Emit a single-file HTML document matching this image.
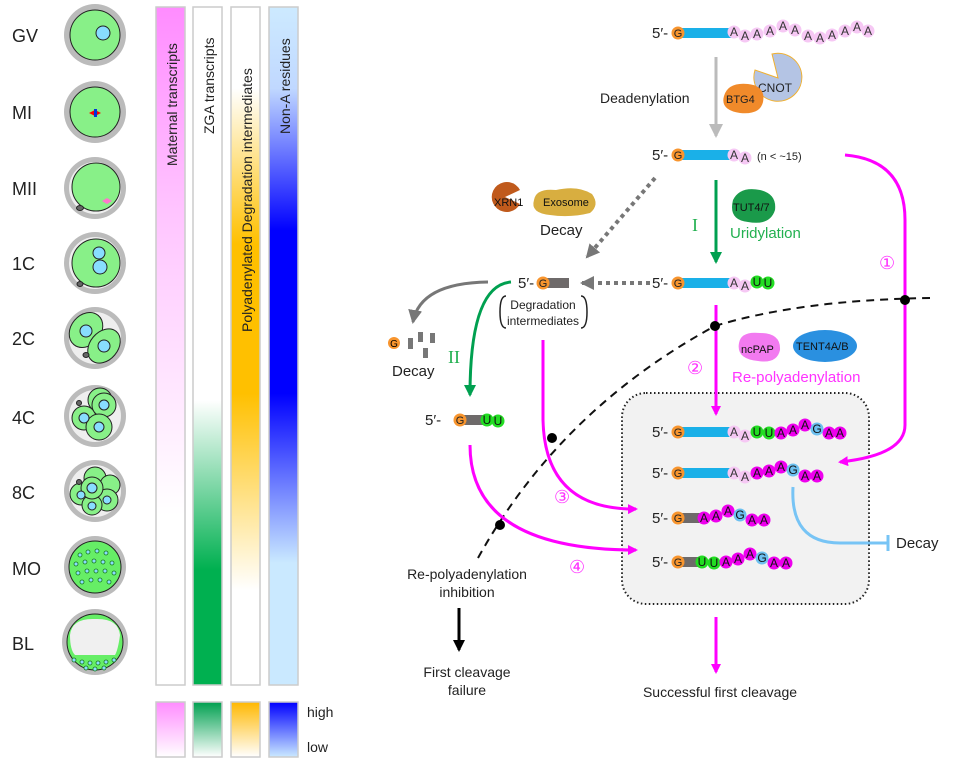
<!DOCTYPE html>
<html><head><meta charset="utf-8"><style>
html,body{margin:0;padding:0;background:#fff}
svg{display:block}
text{font-family:"Liberation Sans",sans-serif}
</style></head><body>
<svg width="956" height="762" viewBox="0 0 956 762" xmlns="http://www.w3.org/2000/svg">
<defs>
<linearGradient id="gM" x1="0" y1="0" x2="0" y2="1"><stop offset="0" stop-color="#ff8cff"/><stop offset="0.3" stop-color="#ffc4ff"/><stop offset="0.75" stop-color="#fff"/><stop offset="1" stop-color="#fff"/></linearGradient>
<linearGradient id="gZ" x1="0" y1="0" x2="0" y2="1"><stop offset="0" stop-color="#fff"/><stop offset="0.58" stop-color="#fff"/><stop offset="0.83" stop-color="#00b050"/><stop offset="1" stop-color="#00b050"/></linearGradient>
<linearGradient id="gP" x1="0" y1="0" x2="0" y2="1"><stop offset="0" stop-color="#fff"/><stop offset="0.12" stop-color="#fff"/><stop offset="0.35" stop-color="#ffc000"/><stop offset="0.57" stop-color="#ffc000"/><stop offset="0.86" stop-color="#fff"/><stop offset="1" stop-color="#fff"/></linearGradient>
<linearGradient id="gN" x1="0" y1="0" x2="0" y2="1"><stop offset="0" stop-color="#cdeaff"/><stop offset="0.12" stop-color="#c0d8ff"/><stop offset="0.33" stop-color="#0000ff"/><stop offset="0.57" stop-color="#0000ff"/><stop offset="0.82" stop-color="#cae9ff"/><stop offset="1" stop-color="#cae9ff"/></linearGradient>
<linearGradient id="lM" x1="0" y1="0" x2="0" y2="1"><stop offset="0" stop-color="#ff8cff"/><stop offset="1" stop-color="#fff"/></linearGradient>
<linearGradient id="lZ" x1="0" y1="0" x2="0" y2="1"><stop offset="0" stop-color="#00a050"/><stop offset="1" stop-color="#fff"/></linearGradient>
<linearGradient id="lP" x1="0" y1="0" x2="0" y2="1"><stop offset="0" stop-color="#ffb800"/><stop offset="1" stop-color="#fff"/></linearGradient>
<linearGradient id="lN" x1="0" y1="0" x2="0" y2="1"><stop offset="0" stop-color="#0000ff"/><stop offset="1" stop-color="#cae9ff"/></linearGradient>
<marker id="aM" markerWidth="10" markerHeight="10" refX="8" refY="5" orient="auto" markerUnits="userSpaceOnUse"><path d="M0,0 L10,5 L0,10 z" fill="#ff00ff"/></marker>
<marker id="aG" markerWidth="12" markerHeight="12" refX="10" refY="6" orient="auto" markerUnits="userSpaceOnUse"><path d="M0,0 L12,6 L0,12 z" fill="#00a050"/></marker>
<marker id="aGr" markerWidth="14" markerHeight="14" refX="12" refY="7" orient="auto" markerUnits="userSpaceOnUse"><path d="M0,0 L14,7 L0,14 z" fill="#777"/></marker>
<marker id="aL" markerWidth="14" markerHeight="14" refX="12" refY="7" orient="auto" markerUnits="userSpaceOnUse"><path d="M0,0 L14,7 L0,14 z" fill="#bbb"/></marker>
<marker id="aK" markerWidth="12" markerHeight="12" refX="10" refY="6" orient="auto" markerUnits="userSpaceOnUse"><path d="M0,0 L12,6 L0,12 z" fill="#000"/></marker>
</defs>

<g font-size="18" fill="#222">
<text x="12" y="42">GV</text><text x="12" y="119">MI</text><text x="12" y="195">MII</text>
<text x="12" y="270">1C</text><text x="12" y="345">2C</text><text x="12" y="424">4C</text>
<text x="12" y="499">8C</text><text x="12" y="575">MO</text><text x="12" y="650">BL</text>
</g>

<g stroke="#222" stroke-width="1">
<circle cx="95" cy="35" r="31" fill="#bbb" stroke="none"/><circle cx="95" cy="35" r="25" fill="#88f088"/><circle cx="103" cy="33" r="7" fill="#88ddff"/>
<circle cx="95" cy="112" r="31" fill="#bbb" stroke="none"/><circle cx="95" cy="112" r="25" fill="#88f088"/><path d="M89,113 L95,110 L101,113 L95,116z" fill="red" stroke="none"/><rect x="94" y="109" width="3" height="8" fill="#0033dd" stroke="none"/>
<circle cx="95" cy="188" r="31" fill="#bbb" stroke="none"/><circle cx="95" cy="188" r="26" fill="#eee" stroke="none"/><circle cx="96" cy="187" r="24" fill="#88f088"/><path d="M102,201 L107,198 L112,201 L107,204z" fill="#f7c" stroke="none"/><ellipse cx="80" cy="208" rx="3.5" ry="2.5" fill="#666"/>
<circle cx="95" cy="263" r="31" fill="#bbb" stroke="none"/><circle cx="95" cy="263" r="26" fill="#eee" stroke="none"/><circle cx="96" cy="263" r="24" fill="#88f088"/><circle cx="99" cy="253" r="6" fill="#88ddff"/><circle cx="100" cy="267" r="7" fill="#88ddff"/><ellipse cx="80" cy="284" rx="3" ry="2.5" fill="#666"/>
<circle cx="95" cy="338" r="31" fill="#bbb" stroke="none"/><circle cx="95" cy="338" r="26" fill="#eee" stroke="none"/><ellipse cx="86" cy="330" rx="15" ry="19" transform="rotate(40 86 330)" fill="#88f088"/><ellipse cx="104" cy="346" rx="14" ry="19" transform="rotate(40 104 346)" fill="#88f088"/><circle cx="86" cy="331" r="6" fill="#88ddff"/><circle cx="104" cy="346" r="6" fill="#88ddff"/><ellipse cx="86" cy="355" rx="3" ry="2.5" fill="#666"/>
<circle cx="95" cy="416" r="31" fill="#bbb" stroke="none"/><circle cx="95" cy="416" r="26" fill="#eee" stroke="none"/><circle cx="100" cy="400" r="12" fill="#88f088"/><circle cx="84" cy="418" r="12" fill="#88f088"/><circle cx="104" cy="405" r="12" fill="#88f088"/><circle cx="99" cy="427" r="13" fill="#88f088"/><circle cx="84" cy="418" r="5" fill="#88ddff"/><circle cx="104" cy="405" r="5" fill="#88ddff"/><circle cx="99" cy="427" r="5" fill="#88ddff"/><circle cx="79" cy="403" r="2.5" fill="#666"/>
<circle cx="95" cy="491" r="31" fill="#bbb" stroke="none"/><circle cx="95" cy="491" r="26" fill="#eee" stroke="none"/><circle cx="95" cy="478" r="11" fill="#88f088"/><circle cx="110" cy="485" r="10" fill="#88f088"/><circle cx="81" cy="494" r="11" fill="#88f088"/><circle cx="107" cy="500" r="11" fill="#88f088"/><circle cx="92" cy="505" r="10" fill="#88f088"/><circle cx="92" cy="488" r="11" fill="#88f088"/><circle cx="92" cy="488" r="5" fill="#88ddff"/><circle cx="81" cy="495" r="4" fill="#88ddff"/><circle cx="107" cy="500" r="4" fill="#88ddff"/><circle cx="92" cy="506" r="4" fill="#88ddff"/><circle cx="79" cy="482" r="2.5" fill="#666"/>
<circle cx="95" cy="567" r="31" fill="#bbb" stroke="none"/><circle cx="95" cy="567" r="26" fill="#66ee66"/>
<circle cx="95" cy="642" r="33" fill="#bbb" stroke="none"/><circle cx="95" cy="642" r="28" fill="#66ee66"/><path d="M70,635 Q72,618 95,619 Q118,618 120,635 Q118,650 115,655 L75,655 Q70,650 70,635z" fill="#f0f0f0" stroke="none"/>
</g>
<g fill="#88ddff" stroke="#1a7a1a" stroke-width="0.8">
<circle cx="80" cy="555" r="2"/><circle cx="88" cy="552" r="2"/><circle cx="97" cy="551" r="2"/><circle cx="106" cy="553" r="2"/><circle cx="76" cy="564" r="2"/><circle cx="85" cy="562" r="2"/><circle cx="94" cy="561" r="2"/><circle cx="103" cy="562" r="2"/><circle cx="112" cy="563" r="2"/><circle cx="78" cy="573" r="2"/><circle cx="87" cy="571" r="2"/><circle cx="96" cy="571" r="2"/><circle cx="105" cy="571" r="2"/><circle cx="114" cy="573" r="2"/><circle cx="82" cy="582" r="2"/><circle cx="91" cy="580" r="2"/><circle cx="100" cy="580" r="2"/><circle cx="109" cy="582" r="2"/>
<circle cx="74" cy="660" r="2"/><circle cx="82" cy="662" r="2"/><circle cx="90" cy="663" r="2"/><circle cx="98" cy="663" r="2"/><circle cx="106" cy="662" r="2"/><circle cx="114" cy="660" r="2"/><circle cx="86" cy="668" r="2"/><circle cx="95" cy="669" r="2"/><circle cx="104" cy="668" r="2"/>
</g>

<g stroke="#ccc" stroke-width="1.5">
<rect x="156" y="7" width="29" height="678" fill="url(#gM)"/>
<rect x="193" y="7" width="29" height="678" fill="url(#gZ)"/>
<rect x="231" y="7" width="29" height="678" fill="url(#gP)"/>
<rect x="269" y="7" width="29" height="678" fill="url(#gN)"/>
<rect x="156" y="702" width="29" height="55" fill="url(#lM)"/>
<rect x="193" y="702" width="29" height="55" fill="url(#lZ)"/>
<rect x="231" y="702" width="29" height="55" fill="url(#lP)"/>
<rect x="269" y="702" width="29" height="55" fill="url(#lN)"/>
</g>
<g font-size="14" fill="#222">
<text transform="translate(177,166) rotate(-90)">Maternal transcripts</text>
<text transform="translate(214,134) rotate(-90)">ZGA transcripts</text>
<text transform="translate(252,332) rotate(-90)">Polyadenylated Degradation intermediates</text>
<text transform="translate(290,134) rotate(-90)">Non-A residues</text>
<text x="307" y="717">high</text><text x="307" y="752">low</text>
</g>

<rect x="622" y="393" width="247" height="211" rx="24" fill="#f2f2f2" stroke="#222" stroke-width="2" stroke-dasharray="1.5 2.5"/>

<path d="M478,558 Q560,410 715,326 Q800,300 930,298" fill="none" stroke="#111" stroke-width="2" stroke-dasharray="8 6"/>

<line x1="716" y1="57" x2="716" y2="136" stroke="#bbb" stroke-width="3" marker-end="url(#aL)"/>
<line x1="716" y1="180" x2="716" y2="262" stroke="#00a050" stroke-width="3" marker-end="url(#aG)"/>
<line x1="650" y1="283" x2="582" y2="283" stroke="#777" stroke-width="4" stroke-dasharray="4 4" marker-end="url(#aGr)"/>
<line x1="655" y1="178" x2="587" y2="257" stroke="#777" stroke-width="4" stroke-dasharray="4 4" marker-end="url(#aGr)"/>
<path d="M488,282 Q420,283 413,322" fill="none" stroke="#777" stroke-width="3" marker-end="url(#aGr)"/>
<path d="M511,282 Q470,285 470,395" fill="none" stroke="#00a050" stroke-width="3" marker-end="url(#aG)"/>
<path d="M845,155 Q905,160 905,220 L905,425 Q905,455 840,462" fill="none" stroke="#ff00ff" stroke-width="3" marker-end="url(#aM)"/>
<line x1="716" y1="305" x2="716" y2="414" stroke="#ff00ff" stroke-width="3" marker-end="url(#aM)"/>
<path d="M543,340 L543,420 Q545,510 636,509" fill="none" stroke="#ff00ff" stroke-width="3" marker-end="url(#aM)"/>
<path d="M470,445 Q470,550 636,550" fill="none" stroke="#ff00ff" stroke-width="3" marker-end="url(#aM)"/>
<line x1="716" y1="617" x2="716" y2="672" stroke="#ff00ff" stroke-width="3" marker-end="url(#aM)"/>
<line x1="459" y1="608" x2="459" y2="650" stroke="#000" stroke-width="3" marker-end="url(#aK)"/>
<path d="M793,487 Q790,543 840,543 L888,543" fill="none" stroke="#77c4f5" stroke-width="3"/>
<line x1="888" y1="535" x2="888" y2="551" stroke="#77c4f5" stroke-width="3"/>
<g fill="#000"><circle cx="905" cy="300" r="5"/><circle cx="715" cy="326" r="5"/><circle cx="552" cy="438" r="5"/><circle cx="500" cy="525" r="5"/></g>

<path d="M778,78 L772,54 A24,24 0 1 1 755,70 z" fill="#b4c4e4" stroke="#f0b030" stroke-width="1"/>
<text x="758" y="92" font-size="12" fill="#222">CNOT</text>
<path d="M724,96 Q728,82 748,84 Q766,86 763,102 Q760,115 740,113 Q720,110 724,96z" fill="#f08a2a"/>
<text x="726" y="103" font-size="11" fill="#222">BTG4</text>
<path d="M733,200 Q740,186 760,190 Q777,194 775,210 Q770,226 748,222 Q728,220 733,200z" fill="#1a9a4a"/>
<text x="733" y="211" font-size="11" fill="#111">TUT4/7</text>
<path d="M505,197 L520,190 A15,15 0 1 0 520,204 z" fill="#c05a1c"/>
<text x="494" y="206" font-size="11" fill="#111">XRN1</text>
<path d="M534,200 Q536,188 556,190 Q578,185 592,194 Q600,205 590,213 Q570,218 550,215 Q530,213 534,200z" fill="#d8ae40"/>
<text x="543" y="206" font-size="11" fill="#111">Exosome</text>
<path d="M739,343 Q741,331 760,333 Q781,333 780,350 Q777,364 758,361 Q736,359 739,343z" fill="#f27af0"/>
<text x="741" y="353" font-size="11" fill="#111">ncPAP</text>
<ellipse cx="825" cy="346" rx="32" ry="16" fill="#2a90e0"/>
<text x="796" y="350" font-size="11" fill="#111">TENT4A/B</text>

<g font-size="14" fill="#222">
<text x="600" y="103">Deadenylation</text>
<text x="540" y="235" font-size="15">Decay</text>
<text x="392" y="376" font-size="15">Decay</text>
<text x="730" y="238" fill="#22b050" font-size="15">Uridylation</text>
<text x="732" y="382" fill="#ff33ff" font-size="15">Re-polyadenylation</text>
<text x="896" y="548" font-size="15">Decay</text>
<text x="467" y="579" text-anchor="middle">Re-polyadenylation</text>
<text x="467" y="597" text-anchor="middle">inhibition</text>
<text x="467" y="677" text-anchor="middle">First cleavage</text>
<text x="467" y="695" text-anchor="middle">failure</text>
<text x="720" y="697" text-anchor="middle">Successful first cleavage</text>
<text x="543" y="309" text-anchor="middle" font-size="12">Degradation</text>
<text x="543" y="325" text-anchor="middle" font-size="12">intermediates</text>
</g>
<path d="M506,296 Q500,296 500,312 Q500,328 506,328" fill="none" stroke="#222" stroke-width="1.5"/>
<path d="M581,296 Q587,296 587,312 Q587,328 581,328" fill="none" stroke="#222" stroke-width="1.5"/>
<g font-size="18" fill="#22b050"><text x="692" y="231" style="font-family:'Liberation Serif',serif">I</text><text x="448" y="363" style="font-family:'Liberation Serif',serif">II</text></g>
<g font-size="18" fill="#ff33ff" style="font-family:'DejaVu Sans',sans-serif"><text x="879" y="269">①</text><text x="687" y="374">②</text><text x="554" y="503">③</text><text x="569" y="573">④</text></g>

<g fill="#777"><rect x="408" y="338" width="5" height="11"/><rect x="418" y="332" width="5" height="10"/><rect x="430" y="333" width="5" height="10"/><rect x="423" y="348" width="5" height="10"/></g>
<circle cx="394" cy="343" r="6" fill="#f8952e"/><text x="394" y="347" font-size="10" text-anchor="middle">G</text>

<g font-size="15" fill="#222">
<text x="652" y="38">5′-</text><text x="652" y="160">5′-</text><text x="652" y="288">5′-</text>
<text x="518" y="288">5′-</text><text x="425" y="425">5′-</text>
<text x="652" y="437">5′-</text><text x="652" y="478">5′-</text><text x="652" y="523">5′-</text><text x="652" y="567">5′-</text>
</g>
<g fill="#1ab0e8">
<rect x="682" y="28" width="50" height="10"/><rect x="682" y="150" width="50" height="10"/><rect x="682" y="278" width="50" height="10"/>
<rect x="682" y="427" width="50" height="10"/><rect x="682" y="468" width="50" height="10"/>
</g>
<g fill="#6e6a6a">
<rect x="541" y="278" width="28" height="10"/><rect x="462" y="415" width="22" height="10"/>
<rect x="682" y="513" width="22" height="10"/><rect x="682" y="557" width="22" height="10"/>
</g>
<g fill="#f8952e">
<circle cx="678" cy="33" r="6.5"/><circle cx="678" cy="155" r="6.5"/><circle cx="678" cy="283" r="6.5"/><circle cx="543" cy="283" r="6.5"/><circle cx="460" cy="420" r="6.5"/>
<circle cx="678" cy="432" r="6.5"/><circle cx="678" cy="473" r="6.5"/><circle cx="678" cy="518" r="6.5"/><circle cx="678" cy="562" r="6.5"/>
</g>
<g font-size="11" text-anchor="middle" fill="#222">
<text x="678" y="37">G</text><text x="678" y="159">G</text><text x="678" y="287">G</text><text x="543" y="287">G</text><text x="460" y="424">G</text>
<text x="678" y="436">G</text><text x="678" y="477">G</text><text x="678" y="522">G</text><text x="678" y="566">G</text>
</g>
<g fill="#f6c8f4">
<circle cx="734" cy="32" r="6.5"/><circle cx="745" cy="36" r="6.5"/><circle cx="757" cy="34" r="6.5"/><circle cx="770" cy="31" r="6.5"/><circle cx="783" cy="26" r="6.5"/><circle cx="795" cy="30" r="6.5"/><circle cx="808" cy="36" r="6.5"/><circle cx="820" cy="38" r="6.5"/><circle cx="832" cy="35" r="6.5"/><circle cx="845" cy="31" r="6.5"/><circle cx="857" cy="27" r="6.5"/><circle cx="868" cy="31" r="6.5"/>
<circle cx="734" cy="155" r="6.5"/><circle cx="745" cy="158" r="6.5"/>
<circle cx="734" cy="283" r="6.5"/><circle cx="745" cy="286" r="6.5"/>
<circle cx="734" cy="432" r="6.5"/><circle cx="745" cy="436" r="6.5"/>
<circle cx="734" cy="473" r="6.5"/><circle cx="745" cy="477" r="6.5"/>
</g>
<g font-size="12" text-anchor="middle" fill="#333">
<text x="734" y="36">A</text><text x="745" y="40">A</text><text x="757" y="38">A</text><text x="770" y="35">A</text><text x="783" y="30">A</text><text x="795" y="34">A</text><text x="808" y="40">A</text><text x="820" y="42">A</text><text x="832" y="39">A</text><text x="845" y="35">A</text><text x="857" y="31">A</text><text x="868" y="35">A</text>
<text x="734" y="159">A</text><text x="745" y="162">A</text>
<text x="734" y="287">A</text><text x="745" y="290">A</text>
<text x="734" y="436">A</text><text x="745" y="440">A</text>
<text x="734" y="477">A</text><text x="745" y="481">A</text>
</g>
<text x="757" y="160" font-size="11" fill="#222">(n &lt; ~15)</text>
<g fill="#22dd22">
<circle cx="757" cy="282" r="6.5"/><circle cx="768" cy="283" r="6.5"/>
<circle cx="487" cy="420" r="6.5"/><circle cx="498" cy="421" r="6.5"/>
<circle cx="757" cy="432" r="6.5"/><circle cx="769" cy="433" r="6.5"/>
<circle cx="702" cy="562" r="6.5"/><circle cx="714" cy="563" r="6.5"/>
</g>
<g font-size="12" text-anchor="middle" fill="#111">
<text x="757" y="286">U</text><text x="768" y="287">U</text>
<text x="487" y="424">U</text><text x="498" y="425">U</text>
<text x="757" y="436">U</text><text x="769" y="437">U</text>
<text x="702" y="566">U</text><text x="714" y="567">U</text>
</g>
<g fill="#ee00ee">
<circle cx="781" cy="433" r="6.5"/><circle cx="793" cy="430" r="6.5"/><circle cx="805" cy="425" r="6.5"/><circle cx="829" cy="433" r="6.5"/><circle cx="840" cy="433" r="6.5"/>
<circle cx="757" cy="473" r="6.5"/><circle cx="769" cy="471" r="6.5"/><circle cx="781" cy="467" r="6.5"/><circle cx="805" cy="476" r="6.5"/><circle cx="817" cy="476" r="6.5"/>
<circle cx="704" cy="518" r="6.5"/><circle cx="716" cy="516" r="6.5"/><circle cx="728" cy="511" r="6.5"/><circle cx="752" cy="520" r="6.5"/><circle cx="764" cy="520" r="6.5"/>
<circle cx="726" cy="562" r="6.5"/><circle cx="738" cy="559" r="6.5"/><circle cx="750" cy="554" r="6.5"/><circle cx="774" cy="563" r="6.5"/><circle cx="786" cy="563" r="6.5"/>
</g>
<g fill="#6cc0f0">
<circle cx="817" cy="429" r="6.5"/><circle cx="793" cy="470" r="6.5"/><circle cx="740" cy="515" r="6.5"/><circle cx="762" cy="558" r="6.5"/>
</g>
<g font-size="12" text-anchor="middle" fill="#111">
<text x="781" y="437">A</text><text x="793" y="434">A</text><text x="805" y="429">A</text><text x="817" y="433">G</text><text x="829" y="437">A</text><text x="840" y="437">A</text>
<text x="757" y="477">A</text><text x="769" y="475">A</text><text x="781" y="471">A</text><text x="793" y="474">G</text><text x="805" y="480">A</text><text x="817" y="480">A</text>
<text x="704" y="522">A</text><text x="716" y="520">A</text><text x="728" y="515">A</text><text x="740" y="519">G</text><text x="752" y="524">A</text><text x="764" y="524">A</text>
<text x="726" y="566">A</text><text x="738" y="563">A</text><text x="750" y="558">A</text><text x="762" y="562">G</text><text x="774" y="567">A</text><text x="786" y="567">A</text>
</g>
</svg>
</body></html>
